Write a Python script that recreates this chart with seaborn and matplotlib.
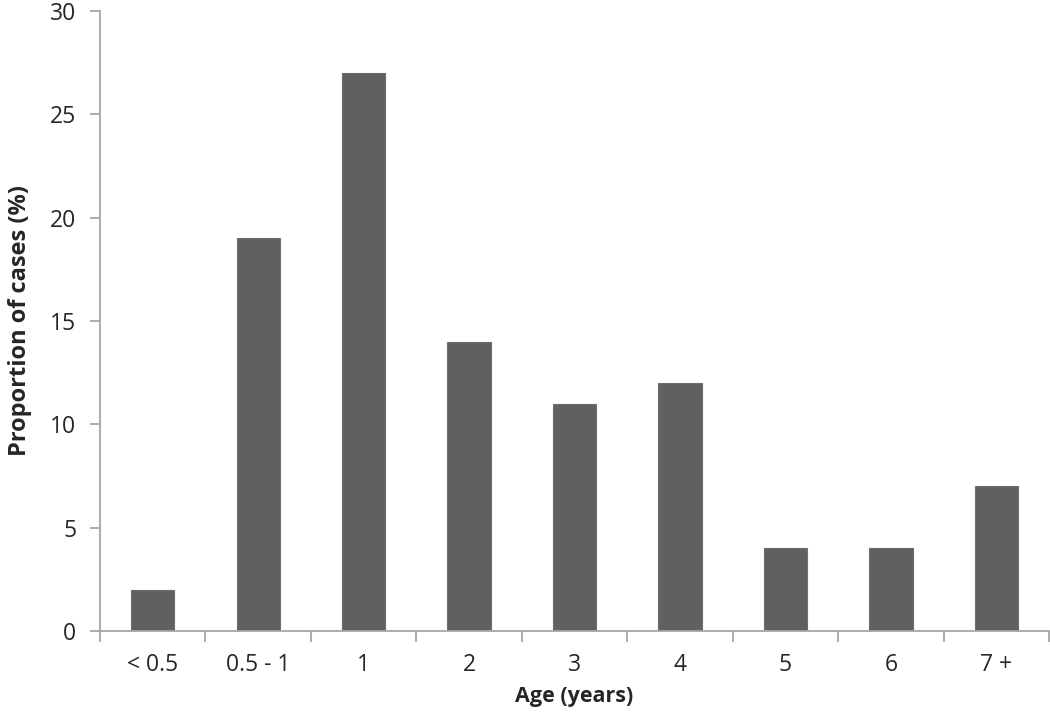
import numpy as np
import pandas as pd
import seaborn as sns
import matplotlib.pyplot as plt
from matplotlib.ticker import FixedLocator, NullFormatter

age_groups = ["< 0.5", "0.5 - 1", "1", "2", "3", "4", "5", "6", "7 +"]
proportions = [2, 19, 27, 14, 11, 12, 4, 4, 7]

df = pd.DataFrame({"age": age_groups, "proportion": proportions})

sns.set_style("white")
plt.rcParams["font.family"] = ["Open Sans", "DejaVu Sans"]

fig = plt.figure(figsize=(10.5, 7.24), dpi=100)
ax = fig.add_axes([0.0952, 0.1285, 0.904, 0.8565])

sns.barplot(data=df, x="age", y="proportion", color="#606060", width=0.41,
            edgecolor="#6e6e6e", linewidth=0.8, saturation=1, ax=ax)

axis_col = "#a6a6a6"
ax.set_ylim(0, 30)
ax.set_xlim(-0.5, len(age_groups) - 0.5)
ax.set_yticks(range(0, 31, 5))
for side in ["top", "right"]:
    ax.spines[side].set_visible(False)
for side in ["left", "bottom"]:
    ax.spines[side].set_color(axis_col)
    ax.spines[side].set_linewidth(1.3)

# Excel style: x ticks between categories
ax.xaxis.set_minor_locator(FixedLocator(np.arange(-0.5, len(age_groups), 1)))
ax.xaxis.set_minor_formatter(NullFormatter())
ax.tick_params(axis="x", which="major", bottom=True, length=0, pad=16, labelsize=16.5)
ax.tick_params(axis="x", which="minor", bottom=True, length=8, width=1.3,
               color=axis_col, direction="out")
ax.tick_params(axis="y", left=True, length=7, width=1.3, color=axis_col,
               direction="out", pad=10, labelsize=16.5)

ax.set_xlabel("Age (years)", fontsize=15.5, fontweight="bold", labelpad=6)
ax.set_ylabel("Proportion of cases (%)", fontsize=17, fontweight="bold", labelpad=13)

plt.savefig("out.png", dpi=100)
